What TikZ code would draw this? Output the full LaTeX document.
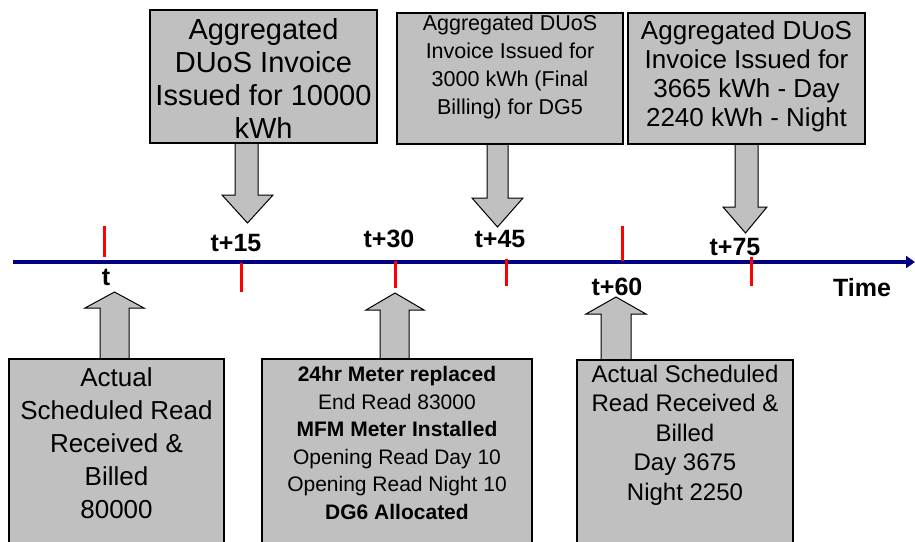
\documentclass[tikz,border=0pt]{standalone}
\usepackage{fontspec}
\setmainfont{Liberation Sans}
\usetikzlibrary{arrows.meta}
\definecolor{boxgray}{RGB}{192,192,192}
\definecolor{navyline}{RGB}{0,0,128}
\begin{document}
\begin{tikzpicture}[x=1pt,y=-1pt,
  box/.style={draw=black,fill=boxgray,line width=1.2pt,rectangle,inner sep=0pt},
  blk/.style={draw=black,fill=boxgray,line width=1pt,line join=miter},
  tickmark/.style={draw=red,line width=3pt},
  lbl/.style={font=\bfseries\fontsize{25}{30}\selectfont,inner sep=0pt},
  txt/.style={align=center,inner sep=0pt},
  ]
\useasboundingbox (0,0) rectangle (915,541);
\clip (0,0) rectangle (915,541);

% timeline
\coordinate (tl0) at (13,262);
\coordinate (tl1) at (915,262);
\draw[navyline,line width=4pt,-{Triangle[length=9pt,width=12pt]}] (tl0) -- (tl1);

% ticks
\draw[tickmark] (104,226) -- (104,257);
\draw[tickmark] (241,263) -- (241,292);
\draw[tickmark] (395,261) -- (395,288);
\draw[tickmark] (506,259) -- (506,286);
\draw[tickmark] (622,226) -- (622,261);
\draw[tickmark] (751,257) -- (751,286);

% labels
\node[lbl] (l0) at (106,277) {t};
\node[lbl] (l15) at (236,243) {t+15};
\node[lbl] (l30) at (389,239) {t+30};
\node[lbl] (l45) at (500,239) {t+45};
\node[lbl] (l60) at (617,287) {t+60};
\node[lbl] (l75) at (735,247) {t+75};
\node[lbl] (ltime) at (862,288) {Time};

% block arrows
\draw[blk] (235,143) -- (235,195) -- (222,195) -- (247.5,223) -- (273,195) -- (258,195) -- (258,143) -- cycle;
\draw[blk] (487,144) -- (487,198) -- (472,198) -- (497.5,227) -- (523,198) -- (508,198) -- (508,144) -- cycle;
\draw[blk] (735,144) -- (735,207) -- (723,207) -- (745.5,233) -- (767,207) -- (758,207) -- (758,144) -- cycle;
\draw[blk] (100,359) -- (100,308) -- (85,308) -- (114.5,292) -- (144,308) -- (129,308) -- (129,359) -- cycle;
\draw[blk] (380,359) -- (380,310) -- (366,310) -- (395,293) -- (424,310) -- (409,310) -- (409,359) -- cycle;
\draw[blk] (601,360) -- (601,314) -- (586,314) -- (616,297) -- (646,314) -- (631,314) -- (631,360) -- cycle;

% boxes
\node[box,minimum width=227pt,minimum height=133pt] (b1) at (263.5,76.5) {};
\node[box,minimum width=226pt,minimum height=131pt] (b2) at (510,78.5) {};
\node[box,minimum width=237pt,minimum height=131pt] (b3) at (746.5,78.5) {};
\node[box,minimum width=215pt,minimum height=201pt] (c1) at (116.5,459.5) {};
\node[box,minimum width=270pt,minimum height=201pt] (c2) at (397,459.5) {};
\node[box,minimum width=216pt,minimum height=200pt] (c3) at (685,460) {};

% texts
\node[txt,font=\fontsize{29}{33}\selectfont] (t1) at (263.5,78) {Aggregated\\DUoS Invoice\\Issued for 10000\\kWh};
\node[txt,font=\fontsize{21.5}{28}\selectfont] (t2) at (510,67) {Aggregated DUoS\\Invoice Issued for\\3000 kWh (Final\\Billing) for DG5};
\node[txt,font=\fontsize{26}{29}\selectfont] (t3) at (746.5,76) {Aggregated DUoS\\Invoice Issued for\\3665 kWh - Day\\2240 kWh - Night};
\node[txt,font=\fontsize{26}{33}\selectfont] (u1) at (116.5,443) {Actual\\Scheduled Read\\Received \&\\Billed\\80000};
\node[txt,font=\fontsize{21}{27.5}\selectfont] (u2) at (397,443) {\textbf{24hr Meter replaced}\\End Read 83000\\\textbf{MFM Meter Installed}\\Opening Read Day 10\\Opening Read Night 10\\\textbf{DG6 Allocated}};
\node[txt,font=\fontsize{24}{29.5}\selectfont] (u3) at (685,435) {Actual Scheduled\\Read Received \&\\Billed\\Day 3675\\Night 2250};
\end{tikzpicture}
\end{document}
